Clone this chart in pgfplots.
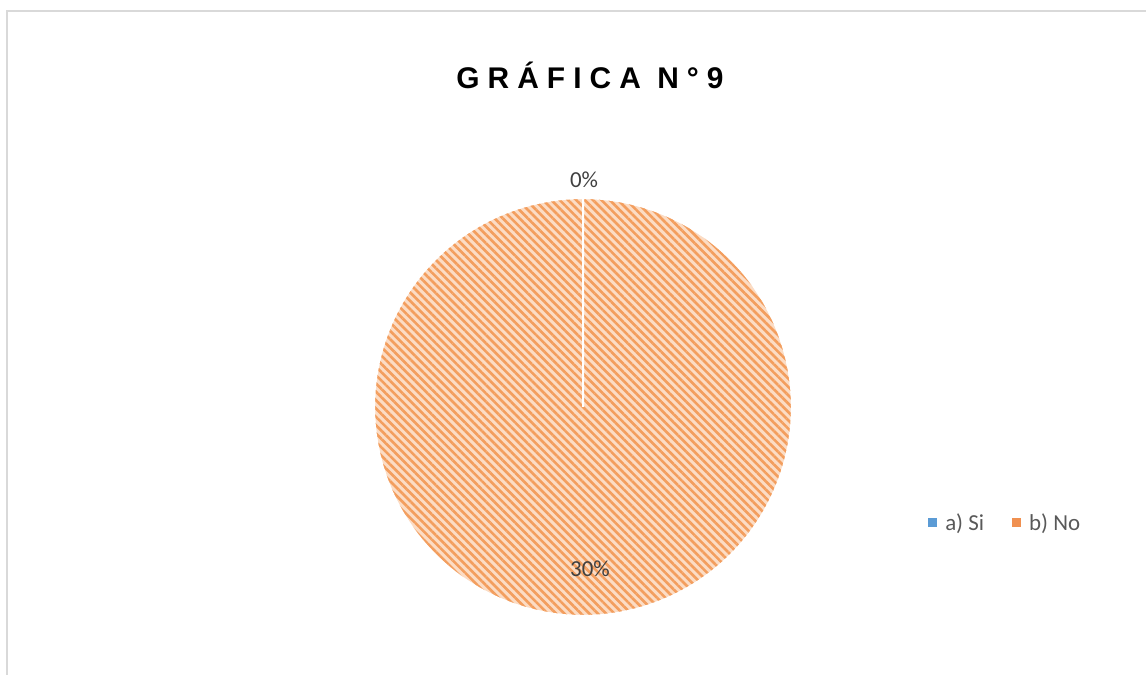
\documentclass[border=0pt]{standalone}
\usepackage{fontspec}
\setmainfont{Carlito}
\newfontfamily\titlefont[LetterSpace=27]{Liberation Sans}
\usepackage{pgfplots}
\pgfplotsset{compat=1.18}
\usetikzlibrary{patterns.meta}

\definecolor{siblue}{HTML}{5B9BD5}
\definecolor{noorange}{HTML}{ED7D31}
\definecolor{nolight}{HTML}{FCDCC4}
\definecolor{nostripe}{HTML}{F39E5E}
\definecolor{labelgray}{HTML}{404040}
\definecolor{leggray}{HTML}{595959}
\definecolor{framegray}{HTML}{D9D9D9}

% answers: a) Si, b) No
\def\vSi{0}
\def\vNo{30}
\pgfmathsetmacro\total{\vSi+\vNo}
\pgfmathsetmacro\aMid{90-360*\vSi/\total}
\pgfmathsetmacro\aEnd{90-360}

\begin{document}
\begin{tikzpicture}
\begin{axis}[
    scale only axis,
    width=1146bp, height=675bp,
    xmin=0, xmax=1146, ymin=0, ymax=675,
    hide axis, clip=false,
    legend columns=2,
    legend style={at={(0.8072,0.2252)}, anchor=west, draw=none, fill=none,
        font=\fontsize{23}{27}\selectfont\color{leggray},
        /tikz/every odd column/.append style={column sep=6bp},
        /tikz/every even column/.append style={column sep=26bp}},
    legend image code/.code={\path[#1, draw=none] (0bp,-4.5bp) rectangle (9bp,4.5bp);},
]
% frame
\addplot[framegray, line width=2bp, forget plot] coordinates {(7,-20) (7,664) (1170,664)};

% pie: slice "b) No" (slice "a) Si" has zero width)
\addplot[draw=white, line width=2bp, fill=nolight,
    postaction={pattern={Lines[angle=-45, distance=5.9bp, line width=2.6bp]}, pattern color=nostripe},
    domain=\aEnd:\aMid, samples=241, forget plot]
    ({583+209*cos(x)}, {268+209*sin(x)}) -- (583,268) -- cycle;

\addlegendimage{fill=siblue}
\addlegendentry{a) Si}
\addlegendimage{fill=noorange!85}
\addlegendentry{b) No}

% labels
\node[font=\fontsize{23}{27}\selectfont, text=labelgray] at (584,495) {0\%};
\node[font=\fontsize{23}{27}\selectfont, text=labelgray] at (590,106) {30\%};
\node[font=\titlefont\bfseries\fontsize{30}{34}\selectfont] at (590,600) {GRÁFICA N°9};
\end{axis}
\pgfresetboundingbox
\path[use as bounding box] (0,0) rectangle (1146bp,675bp);
\end{tikzpicture}
\end{document}
